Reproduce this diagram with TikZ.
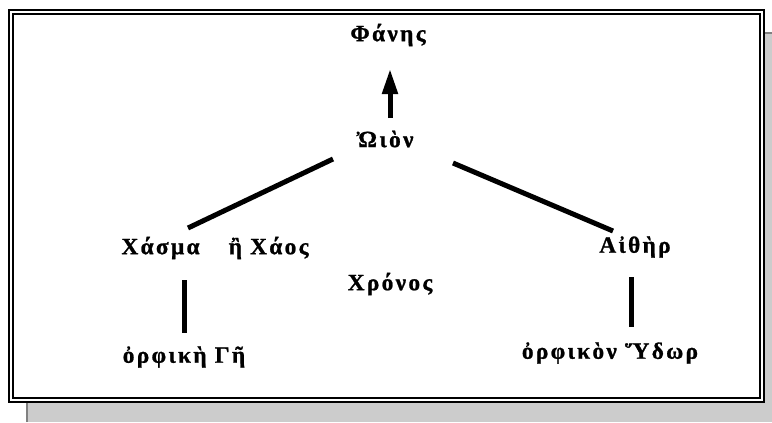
\documentclass[tikz,border=0pt]{standalone}
\usepackage{fontspec}
\setmainfont{Liberation Serif}
\usetikzlibrary{arrows.meta,calc}

\tikzset{
  label/.style={inner sep=0pt, font=\bfseries\fontsize{17.5}{20}\selectfont\addfontfeature{LetterSpace=10,FakeBold=1}},
  link/.style={line width=3.75pt},
  rise/.style={line width=3.75pt, -{Triangle[length=18.75pt, width=11.25pt]}}
}

\begin{document}
\begin{tikzpicture}[x=0.75pt,y=0.75pt]
\useasboundingbox (0,0) rectangle (772,-422);
% shadow and double frame
\fill [black!20] (26,-32) rectangle (772,-422);
\draw [black!50, line width=2.2pt] (27,-422) -- (27,-33) -- (772,-33);
\draw [black, fill=white, line width=1.5pt] (9,-10) rectangle (764,-402);
\draw [black, line width=1.1pt] (13,-14) rectangle (760,-398);
% names
\node [label] (phanes) at (388,-35) {Φάνης};
\node [label] (oion) at (385,-139) {Ὠιὸν};
\node [label] (chasma) at (215,-248) {Χάσμα\hspace{0.9em} ἢ Χάος};
\node [label] (chronos) at (390,-284) {Χρόνος};
\node [label] (aither) at (635,-247) {Αἰθὴρ};
\node [label] (ge) at (184,-357) {ὀρφικὴ Γῆ};
\node [label] (hydor) at (610,-353) {ὀρφικὸν Ὕδωρ};
% connectors
\draw [rise] ($(oion)+(5,21)$) -- ($(phanes)+(2,-34)$);
\draw [link] ($(oion)+(-52,-20)$) -- ($(chasma)+(-27,20)$);
\draw [link] ($(oion)+(68,-24)$) -- ($(aither)+(-22,16)$);
\draw [link] ($(chasma)+(-31,-32)$) -- ($(ge)+(0,24)$);
\draw [link] ($(aither)+(-4,-30)$) -- ($(hydor)+(21,26)$);
\end{tikzpicture}
\end{document}
